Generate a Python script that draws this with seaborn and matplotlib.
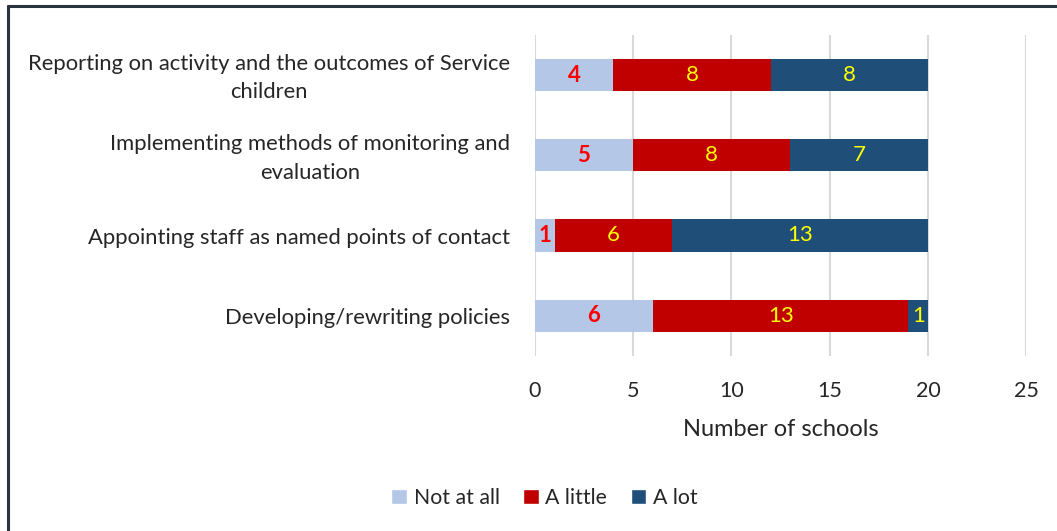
import pandas as pd
import matplotlib.pyplot as plt
import seaborn as sns
from matplotlib.patches import Patch
from matplotlib.lines import Line2D

categories = [
    "Reporting on activity and the outcomes of Service\nchildren",
    "Implementing methods of monitoring and\nevaluation",
    "Appointing staff as named points of contact",
    "Developing/rewriting policies",
]
not_at_all = [4, 5, 1, 6]
a_little = [8, 8, 6, 13]
a_lot = [8, 7, 13, 1]
series_names = ["Not at all", "A little", "A lot"]
colors = ["#B4C7E7", "#C00000", "#1F4E79"]
label_colors = ["#FF0000", "#FFFF00", "#FFFF00"]

sns.set_style("white")
plt.rcParams["font.family"] = ["Lato", "DejaVu Sans"]

df = pd.DataFrame({"cat": categories, "Not at all": not_at_all,
                   "A little": a_little, "A lot": a_lot})
df["c1"] = df["Not at all"]
df["c2"] = df["c1"] + df["A little"]
df["c3"] = df["c2"] + df["A lot"]

fig = plt.figure(figsize=(10.57, 5.31), dpi=100)
ax = fig.add_axes([0.506, 0.330, 0.465, 0.604])

# stacked bars: draw cumulative totals from the back
for col, color in zip(["c3", "c2", "c1"], colors[::-1]):
    sns.barplot(data=df, x=col, y="cat", color=color, width=0.4,
                orient="h", ax=ax, saturation=1, linewidth=0)

# value labels
lefts = [[0] * 4, not_at_all, list(df["c2"])]
vals = [not_at_all, a_little, a_lot]
for s in range(3):
    for i in range(4):
        ax.text(lefts[s][i] + vals[s][i] / 2, i, str(vals[s][i]),
                ha="center", va="center", fontsize=16,
                color=label_colors[s],
                fontweight="bold" if s == 0 else "normal")

ax.set_xlim(0, 25)
ax.set_ylim(3.5, -0.5)
ax.set_xticks([0, 5, 10, 15, 20, 25])
ax.grid(axis="x", color="#D9D9D9", linewidth=1.5)
ax.set_axisbelow(True)
for sp in ax.spines.values():
    sp.set_visible(False)
ax.tick_params(axis="x", length=0, labelsize=15.5, pad=18)
ax.tick_params(axis="y", length=0, labelleft=False)
# category labels, centred on each bar
for i, cat in enumerate(categories):
    ax.text(-0.051, i + 0.035, cat, transform=ax.get_yaxis_transform(),
            ha="right", va="center", multialignment="center",
            fontsize=15.8, linespacing=1.55, color="#262626")
ax.set_ylabel("")
ax.set_xlabel("Number of schools", fontsize=17, labelpad=13)

handles = [Patch(facecolor=c, label=n) for c, n in zip(colors, series_names)]
fig.legend(handles=handles, loc="center", bbox_to_anchor=(0.515, 0.062),
           ncol=3, frameon=False, fontsize=15.3, handlelength=0.75,
           handleheight=0.75, handletextpad=0.3, columnspacing=1.1)

# outer frame (top and left only visible)
fig.add_artist(Line2D([0.0075, 0.0075], [0, 0.989], color="#2A3440", linewidth=2.2,
                      transform=fig.transFigure))
fig.add_artist(Line2D([0.0075, 1], [0.989, 0.989], color="#2A3440", linewidth=2.2,
                      transform=fig.transFigure))

fig.savefig("out.png", dpi=100)
